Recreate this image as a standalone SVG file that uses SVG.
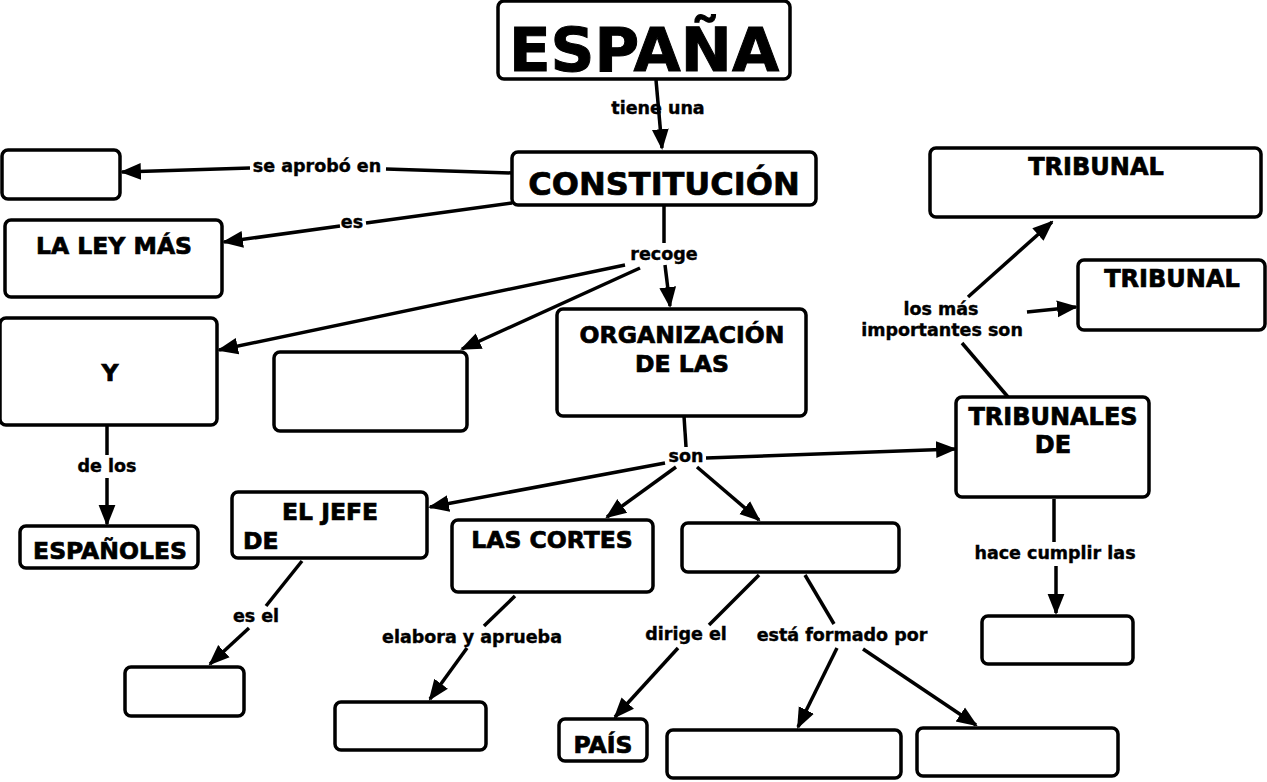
<svg xmlns="http://www.w3.org/2000/svg" width="1267" height="782" viewBox="0 0 1267 782">
<defs>
<marker id="ah" viewBox="0 0 10 10" refX="9" refY="5" markerWidth="6" markerHeight="6" markerUnits="strokeWidth" orient="auto"><path d="M0,1 L10,5 L0,9 Z" fill="#000"/></marker>
<style>
.n{fill:#fff;stroke:#000;stroke-width:3.5}
.t{font-family:"DejaVu Sans",Verdana,sans-serif;font-weight:bold;fill:#000;text-anchor:middle;stroke:#000;stroke-width:0.7}
.s{text-anchor:start}
.l{font-family:"DejaVu Sans",Verdana,sans-serif;font-weight:bold;fill:#000;text-anchor:middle;font-size:17.5px;stroke:#000;stroke-width:0.4}
.c{fill:none;stroke:#000;stroke-width:3.5}
.a{marker-end:url(#ah)}
</style>
</defs>
<rect width="1267" height="782" fill="#fff"/>
<g id="connectors">
<path class="c a" d="M656,80 L662,148"/>
<path class="c" d="M512,173 L386,169"/>
<path class="c a" d="M250,168 L122,172"/>
<path class="c" d="M512,203 L366,223"/>
<path class="c a" d="M340,226 L224,242"/>
<path class="c" d="M664,205 L664,243"/>
<path class="c a" d="M665,265 L670,306"/>
<path class="c a" d="M625,265 L219,350"/>
<path class="c a" d="M640,268 L462,349"/>
<path class="c" d="M107,426 L107,455"/>
<path class="c a" d="M107,478 L107,524"/>
<path class="c" d="M684,416 L686,447"/>
<path class="c a" d="M706,458 L955,449"/>
<path class="c a" d="M665,463 L430,507"/>
<path class="c a" d="M676,467 L607,517"/>
<path class="c a" d="M697,467 L759,520"/>
<path class="c" d="M302,561 L266,606"/>
<path class="c a" d="M249,628 L210,664"/>
<path class="c" d="M515,596 L484,626"/>
<path class="c a" d="M467,648 L430,699"/>
<path class="c" d="M759,575 L709,625"/>
<path class="c a" d="M678,648 L615,717"/>
<path class="c" d="M805,575 L834,624"/>
<path class="c a" d="M837,648 L798,727"/>
<path class="c a" d="M863,649 L976,725"/>
<path class="c" d="M1008,397 L962,343"/>
<path class="c a" d="M968,297 L1052,222"/>
<path class="c a" d="M1027,312 L1076,307"/>
<path class="c" d="M1054,499 L1054,542"/>
<path class="c a" d="M1056,566 L1056,613"/>
</g>
<g id="labels">
<text class="l" x="658" y="114">tiene una</text>
<text class="l" x="317" y="172">se aprobó en</text>
<text class="l" x="352" y="228">es</text>
<text class="l" x="664" y="260">recoge</text>
<text class="l" x="107" y="472">de los</text>
<text class="l" x="686" y="462">son</text>
<text class="l" x="256" y="622">es el</text>
<text class="l" x="472" y="643">elabora y aprueba</text>
<text class="l" x="686" y="640">dirige el</text>
<text class="l" x="842" y="641">está formado por</text>
<text class="l" x="941" y="315">los más</text>
<text class="l" x="942" y="336">importantes son</text>
<text class="l" x="1055" y="559">hace cumplir las</text>
</g>
<g id="espana"><rect class="n" x="498" y="1" width="292" height="78" rx="6"/><text class="t" x="644" y="71" font-size="61" style="stroke-width:1">ESPAÑA</text></g>
<g id="constitucion"><rect class="n" x="512" y="152" width="304" height="53" rx="6"/><text class="t" x="664" y="195" font-size="32">CONSTITUCIÓN</text></g>
<g id="fecha"><rect class="n" x="2" y="150" width="118" height="49" rx="6"/></g>
<g id="ley"><rect class="n" x="5" y="220" width="217" height="77" rx="6"/><text class="t" x="114" y="254" font-size="23.5">LA LEY MÁS</text></g>
<g id="derechos"><rect class="n" x="0" y="318" width="217" height="107" rx="6"/><text class="t" x="110" y="381" font-size="23.5">Y</text></g>
<g id="vacio1"><rect class="n" x="274" y="352" width="193" height="79" rx="6"/></g>
<g id="organizacion"><rect class="n" x="557" y="309" width="249" height="107" rx="6"/><text class="t" x="682" y="343" font-size="23.5">ORGANIZACIÓN</text><text class="t" x="682" y="372" font-size="23.5">DE LAS</text></g>
<g id="tribunal1"><rect class="n" x="930" y="148" width="331" height="69" rx="6"/><text class="t" x="1096" y="175" font-size="24">TRIBUNAL</text></g>
<g id="tribunal2"><rect class="n" x="1078" y="260" width="187" height="70" rx="6"/><text class="t" x="1172" y="287" font-size="24">TRIBUNAL</text></g>
<g id="tribunales"><rect class="n" x="956" y="397" width="193" height="100" rx="6"/><text class="t" x="1053" y="425" font-size="24">TRIBUNALES</text><text class="t" x="1053" y="453" font-size="24">DE</text></g>
<g id="espanoles"><rect class="n" x="20" y="526" width="178" height="42" rx="6"/><text class="t" x="110" y="559" font-size="23.5">ESPAÑOLES</text></g>
<g id="jefe"><rect class="n" x="232" y="492" width="195" height="66" rx="6"/><text class="t" x="330" y="520" font-size="23.5">EL JEFE</text><text class="t s" x="243" y="549" font-size="23.5">DE</text></g>
<g id="cortes"><rect class="n" x="452" y="520" width="201" height="72" rx="6"/><text class="t" x="552" y="548" font-size="23.5">LAS CORTES</text></g>
<g id="gobierno"><rect class="n" x="682" y="523" width="217" height="49" rx="6"/></g>
<g id="rey"><rect class="n" x="125" y="667" width="119" height="49" rx="6"/></g>
<g id="leyes"><rect class="n" x="335" y="702" width="151" height="48" rx="6"/></g>
<g id="pais"><rect class="n" x="559" y="719" width="88" height="42" rx="6"/><text class="t" x="603" y="753" font-size="23.5">PAÍS</text></g>
<g id="presidente"><rect class="n" x="667" y="730" width="234" height="48" rx="6"/></g>
<g id="ministros"><rect class="n" x="917" y="728" width="201" height="48" rx="6"/></g>
<g id="leyes2"><rect class="n" x="982" y="616" width="151" height="48" rx="6"/></g>
</svg>
